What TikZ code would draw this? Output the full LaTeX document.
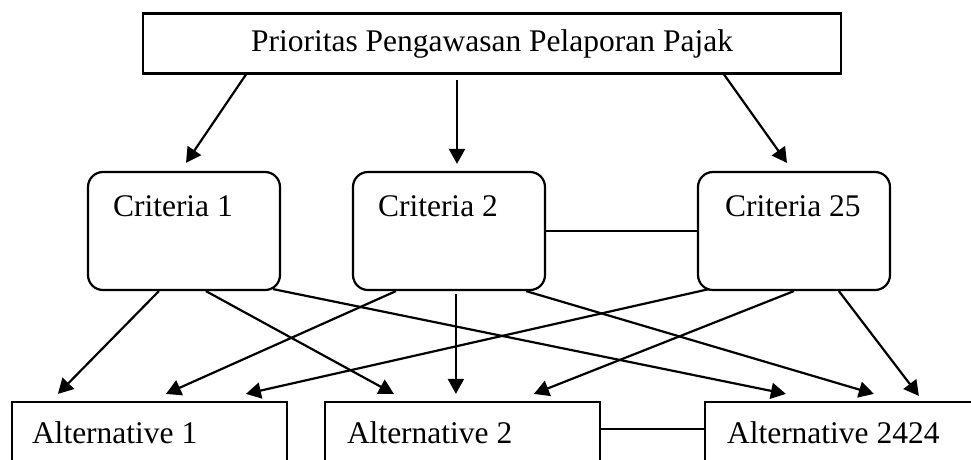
\documentclass[tikz,border=0pt]{standalone}
\usepackage{fontspec}
\setmainfont{Liberation Serif}
\usetikzlibrary{arrows.meta}

\begin{document}
\begin{tikzpicture}
[x=1pt, y=-1pt, line width=2.2pt, font=\fontsize{31.5}{36}\selectfont,
 >={Triangle[length=15pt,width=16pt]}]
\tikzstyle{goal}=[draw, minimum width=698, minimum height=60, inner sep=0pt]
\tikzstyle{crit}=[draw, rounded corners=15pt, minimum width=192, minimum height=118]
\tikzstyle{alt}=[draw, minimum width=275, minimum height=90]
\tikzstyle{txt}=[anchor=base west, inner sep=0pt]

\useasboundingbox (0,0) rectangle (971,459);
\clip (0,0) rectangle (971,459);

\node[goal]	(G)	at (492,43.5)	{Prioritas Pengawasan Pelaporan Pajak};

\node[crit]	(C1)	at (184,231)	{};
\node[crit]	(C2)	at (449,231)	{};
\node[crit]	(C3)	at (794,231)	{};
\node[txt]	(C1t)	at ([xshift=25,yshift=-46]C1.north west)	{Criteria 1};
\node[txt]	(C2t)	at ([xshift=25,yshift=-46]C2.north west)	{Criteria 2};
\node[txt]	(C3t)	at ([xshift=27,yshift=-46]C3.north west)	{Criteria 25};

\node[alt]	(A1)	at (149.5,447)	{};
\node[alt]	(A2)	at (462.5,447)	{};
\node[alt]	(A3)	at (842.5,447)	{};
\node[txt]	(A1t)	at ([xshift=20,yshift=-43]A1.north west)	{Alternative 1};
\node[txt]	(A2t)	at ([xshift=22,yshift=-43]A2.north west)	{Alternative 2};
\node[txt]	(A3t)	at ([xshift=22,yshift=-43]A3.north west)	{Alternative 2424};

% goal to criteria
\draw[->]	([xshift=104]G.south west) -- ([xshift=2,yshift=8]C1.north);
\draw[->]	([xshift=-35,yshift=-5]G.south) -- ([xshift=8,yshift=7]C2.north);
\draw[->]	([xshift=-118]G.south east) -- ([xshift=-7,yshift=8]C3.north);

% criteria to alternatives
\draw[->]	([xshift=72]C1.south west) -- ([xshift=47,yshift=7]A1.north west);
\draw[->]	([xshift=119]C1.south west) -- ([xshift=70,yshift=7]A2.north west);
\draw[->]	([xshift=-8,yshift=2]C1.south east) -- ([xshift=82,yshift=7]A3.north west);
\draw[->]	([xshift=44]C2.south west) -- ([xshift=155,yshift=7]A1.north west);
\draw[->]	([xshift=104,yshift=-3]C2.south west) -- ([xshift=132,yshift=7]A2.north west);
\draw[->]	([xshift=-20]C2.south east) -- ([xshift=170,yshift=7]A3.north west);
\draw[->]	([xshift=12,yshift=2]C3.south west) -- ([xshift=235,yshift=7]A1.north west);
\draw[->]	([xshift=97]C3.south west) -- ([xshift=210,yshift=7]A2.north west);
\draw[->]	([xshift=142]C3.south west) -- ([xshift=215,yshift=5]A3.north west);

\draw	(C2.east) -- (C3.west);
\draw	([yshift=-28]A2.north east) -- ([yshift=-28]A3.north west);

\end{tikzpicture}
\end{document}
